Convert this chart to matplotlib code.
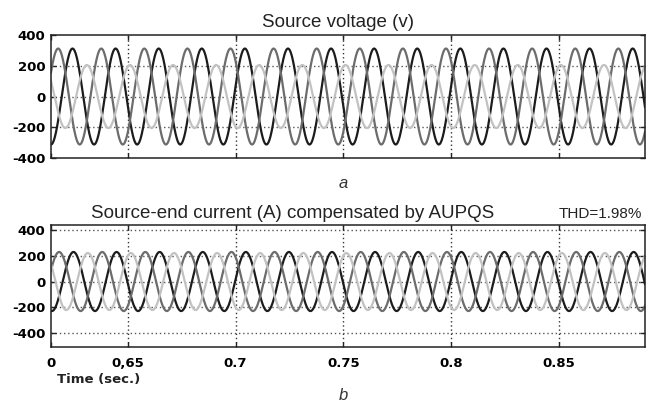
import numpy as np
import matplotlib
matplotlib.use('Agg')
import matplotlib.pyplot as plt

plt.rcParams['axes.unicode_minus'] = False

# three-phase waveforms (50 Hz sinusoids)
freq = 50
phase_names = ['a', 'b', 'c']
phase_angle_deg = [12.6, 132.6, -107.4]      # black, mid grey, light grey
voltage_amp = [312, 312, 205]                # source voltage (v)
current_amp = [230, 230, 222]                # source-end current (A)
current_shift_deg = -8

t_start = 0.6143
t_end = 0.89
x_ticks = [t_start, 0.65, 0.7, 0.75, 0.8, 0.85]
x_tick_labels = ['0', '0,65', '0.7', '0.75', '0.8', '0.85']
y_ticks = [400, 200, 0, -200, -400]
y_tick_labels = ['400', '200', '0', '-200', '-400']

line_colors = ['#1c1c1c', '#6c6c6c', '#c2c2c2']

t = np.linspace(t_start, t_end, 3000)

fig = plt.figure(figsize=(6.56, 4.12), dpi=100)
ax1 = fig.add_axes([0.0777, 0.6165, 0.9055, 0.2985])
ax2 = fig.add_axes([0.0777, 0.1578, 0.9055, 0.2960])

def style_axes(ax, ylim, grid_y):
    ax.set_xlim(t_start, t_end)
    ax.set_ylim(*ylim)
    ax.set_xticks(x_ticks)
    ax.set_yticks(y_ticks)
    ax.set_yticklabels(y_tick_labels, fontfamily='DejaVu Sans',
                       fontweight='bold', fontsize=9.5)
    ax.tick_params(direction='in', length=3.5, width=1, top=True, right=True,
                   color='#222222', pad=4)
    for s in ax.spines.values():
        s.set_linewidth(1.1)
        s.set_color('#222222')
    # dotted grid like the scope plots
    for gx in x_ticks[1:]:
        ax.axvline(gx, color='#333333', linestyle=(0, (1, 2.0)), linewidth=1.0, zorder=1)
    for gy in grid_y:
        ax.axhline(gy, color='#555555', linestyle=(0, (1, 2.0)), linewidth=1.0, zorder=1)

# top: source voltage
for amp, ang, col in zip(voltage_amp, phase_angle_deg, line_colors):
    ax1.plot(t, amp * np.sin(2 * np.pi * freq * t + np.radians(ang)),
             color=col, linewidth=1.6, zorder=2)
style_axes(ax1, (-400, 400), [200, 0, -200])
ax1.set_xticklabels([])
ax1.text(0.484, 1.067, 'Source voltage (v)', transform=ax1.transAxes,
         ha='center', va='baseline', fontsize=13.5, fontfamily='Liberation Sans',
         color='#222222')

# bottom: compensated current
for amp, ang, col in zip(current_amp, phase_angle_deg, line_colors):
    ax2.plot(t, amp * np.sin(2 * np.pi * freq * t + np.radians(ang + current_shift_deg)),
             color=col, linewidth=1.6, zorder=2)
style_axes(ax2, (-510, 440), [400, 200, 0, -200, -400])
ax2.set_xticklabels(x_tick_labels, fontfamily='DejaVu Sans',
                    fontweight='bold', fontsize=9.5)
ax2.tick_params(axis='x', pad=7)
ax2.text(0.4066, 1.057, 'Source-end current (A) compensated by AUPQS',
         transform=ax2.transAxes, ha='center', va='baseline', fontsize=13.5,
         fontfamily='Liberation Sans', color='#222222')
ax2.text(0.995, 1.057, 'THD=1.98%', transform=ax2.transAxes, ha='right',
         va='baseline', fontsize=11, fontfamily='Liberation Sans', color='#222222')
ax2.text(0.01, -0.27, 'Time (sec.)', transform=ax2.transAxes, ha='left',
         va='center', fontsize=9.5, fontfamily='DejaVu Sans', fontweight='bold',
         color='#222222')

# panel letters
fig.text(343 / 656, 1 - 184 / 412, 'a', ha='center', va='center',
         fontsize=12, style='italic', fontfamily='Liberation Sans', color='#333333')
fig.text(343 / 656, 1 - 396 / 412, 'b', ha='center', va='center',
         fontsize=12, style='italic', fontfamily='Liberation Sans', color='#333333')

fig.savefig('out.png', dpi=100)
